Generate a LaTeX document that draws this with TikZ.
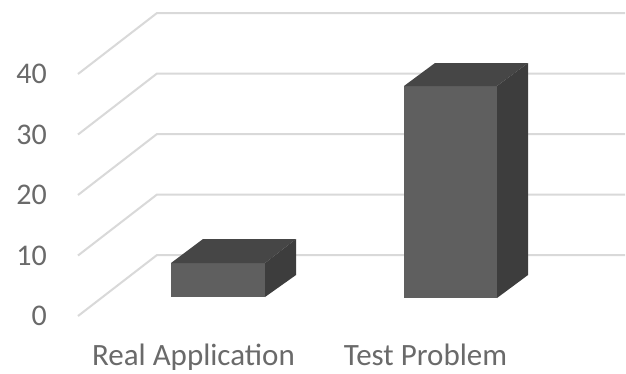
\documentclass[tikz,border=0pt]{standalone}
\usepackage{fontspec}
\setmainfont{Carlito}
\definecolor{gridc}{HTML}{D9D9D9}
\definecolor{txtc}{HTML}{6A6A6A}
\definecolor{frontc}{HTML}{5F5F5F}
\definecolor{topc}{HTML}{464646}
\definecolor{sidec}{HTML}{3D3D3D}
\tikzset{
  gridline/.style={draw=gridc, line width=2pt},
  ticklbl/.style={text=txtc, font=\fontsize{30}{32}\selectfont, anchor=base east, inner sep=0pt},
  catlbl/.style={text=txtc, font=\fontsize{31}{33}\selectfont, anchor=base, inner sep=0pt},
  front/.style={fill=frontc},
  topf/.style={fill=topc},
  sidef/.style={fill=sidec}
}
\begin{document}
\begin{tikzpicture}[x=1pt,y=-1pt]
\useasboundingbox (0,0) rectangle (626,373);
\fill[white] (0,0) rectangle (626,373);
% grid
\foreach \k/\lab in {0/0,1/10,2/20,3/30,4/40}{
  \pgfmathsetmacro{\ly}{316-60.5*\k}
  \draw[gridline] (78,\ly) -- (157,\ly-61) -- (625,\ly-61);
  \node[ticklbl] (t\k) at (47,\ly+9.5) {\lab};
}
% bar 1
\fill[front] (171,263) rectangle (265,297);
\fill[topf] (171,263) -- (203,239) -- (296,239) -- (265,263) -- cycle;
\fill[sidef] (265,263) -- (296,239) -- (296,275) -- (265,297) -- cycle;
% bar 2
\fill[front] (404,86) rectangle (497,298);
\fill[topf] (404,86) -- (435,63) -- (528,63) -- (497,86) -- cycle;
\fill[sidef] (497,86) -- (528,63) -- (528,275) -- (497,298) -- cycle;
% category labels
\node[catlbl] (c1) at (193.5,365) {Real Application};
\node[catlbl] (c2) at (425.5,365) {Test Problem};
\end{tikzpicture}
\end{document}
